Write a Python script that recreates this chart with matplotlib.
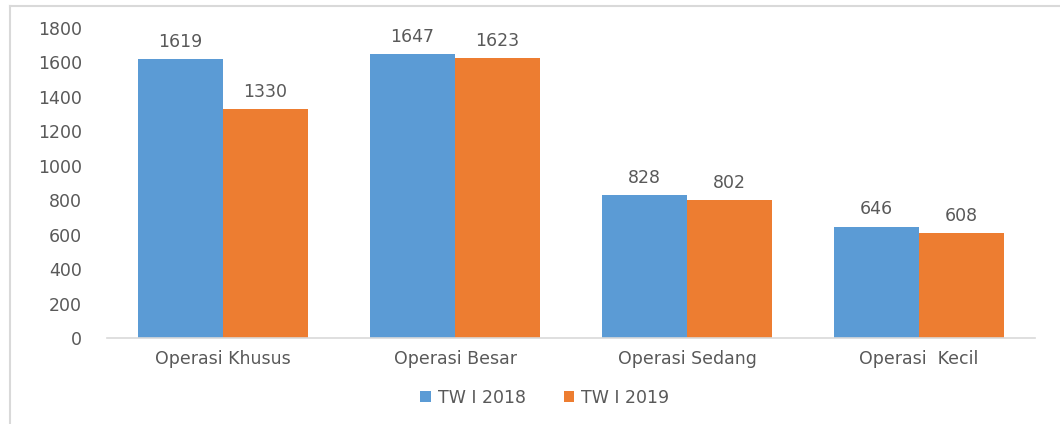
import numpy as np
import matplotlib.pyplot as plt
from matplotlib.lines import Line2D

categories = ['Operasi Khusus', 'Operasi Besar', 'Operasi Sedang', 'Operasi  Kecil']
tw_2018 = [1619, 1647, 828, 646]
tw_2019 = [1330, 1623, 802, 608]
series_names = ['TW I 2018', 'TW I 2019']

blue = '#5B9BD5'
orange = '#ED7D31'
grey_txt = '#595959'

plt.rcParams['font.family'] = ['DejaVu Sans']

fig = plt.figure(figsize=(10.6, 4.24), dpi=100)
ax = fig.add_axes([107 / 1060, 1 - 338 / 424, 928 / 1060, 310 / 424])

x = np.arange(len(categories))
w = 0.366
b1 = ax.bar(x - w / 2, tw_2018, w, color=blue, label=series_names[0])
b2 = ax.bar(x + w / 2, tw_2019, w, color=orange, label=series_names[1])

for bars in (b1, b2):
    for r in bars:
        ax.annotate(f"{int(r.get_height())}", (r.get_x() + r.get_width() / 2, r.get_height()),
                    xytext=(0, 6), textcoords='offset points', ha='center', va='bottom',
                    fontsize=12.5, color=grey_txt)

ax.set_xlim(-0.5, len(categories) - 0.5)
ax.set_ylim(0, 1800)
ax.set_yticks(np.arange(0, 1801, 200))
ax.set_xticks(x)
ax.set_xticklabels(categories)
ax.tick_params(axis='both', length=0, labelsize=12.5, labelcolor=grey_txt)
ax.tick_params(axis='y', pad=18)
ax.tick_params(axis='x', pad=9)
for s in ['top', 'right', 'left']:
    ax.spines[s].set_visible(False)
ax.spines['bottom'].set_color('#d9d9d9')
ax.spines['bottom'].set_linewidth(1.2)

leg = fig.legend(handles=[b1, b2], loc='center', bbox_to_anchor=(545 / 1060, 1 - 398 / 424),
                 ncol=2, frameon=False, fontsize=12.5, handlelength=0.6, handleheight=0.6,
                 handletextpad=0.4, columnspacing=2.2)
for t in leg.get_texts():
    t.set_color(grey_txt)

# outer chart border (partly visible)
fig.add_artist(Line2D([10 / 1060, 1], [1 - 6 / 424, 1 - 6 / 424], color='#d9d9d9', lw=1.5,
                      transform=fig.transFigure))
fig.add_artist(Line2D([10 / 1060, 10 / 1060], [0, 1 - 6 / 424], color='#d9d9d9', lw=1.5,
                      transform=fig.transFigure))

fig.savefig('out.png', dpi=100)
